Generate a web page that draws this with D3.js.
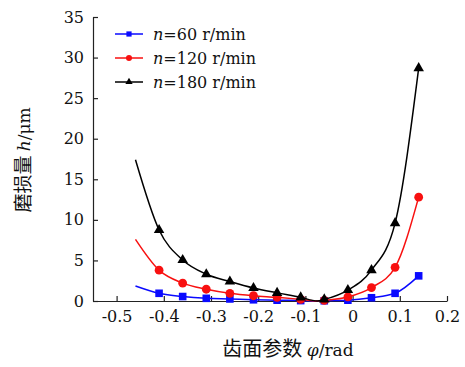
<!DOCTYPE html>
<html lang="zh">
<head>
<meta charset="utf-8">
<title></title>
<style>
body {
  margin: 0;
  background: #fff;
}
</style>
</head>
<body>
<div id="app"></div>
<script src="https://d3js.org/d3.v7.min.js"></script>
<script>
// 齿面参数 φ (rad)；-0.46 是曲线起点，-0.075 是曲线最低点（无标记）
const phi = [-0.46, -0.41, -0.36, -0.31, -0.26, -0.21, -0.16, -0.11, -0.075, -0.06, -0.01, 0.04, 0.09, 0.14]
const hasMarker = [false, true, true, true, true, true, true, true, false, true, true, true, true, true]

// 磨损量 h (μm)
const h60  = [1.85, 0.95, 0.55, 0.33, 0.25, 0.15, 0.1, 0.05, 0, 0.03, 0.1, 0.4, 0.95, 3.1]
const h120 = [7.6, 3.8, 2.2, 1.45, 0.95, 0.65, 0.45, 0.2, 0, 0.08, 0.5, 1.65, 4.15, 12.8]
const h180 = [17.4, 8.75, 5.05, 3.3, 2.4, 1.6, 1.0, 0.45, 0, 0.2, 1.35, 3.8, 9.6, 28.7]

const seriesNames = ["60", "120", "180"]
const xTicks = [-0.5, -0.4, -0.3, -0.2, -0.1, 0, 0.1, 0.2]
const yTicks = [0, 5, 10, 15, 20, 25, 30, 35]

const SERIF = "DejaVu Serif"
const CJK = "Noto Sans CJK SC"

const width = 465,
      height = 367,
      margin = ({top: 17, right: 18, bottom: 66, left: 93})

const series = [
  {name: seriesNames[0], values: h60, color: "#0a0aff", shape: "square"},
  {name: seriesNames[1], values: h120, color: "#f81010", shape: "circle"},
  {name: seriesNames[2], values: h180, color: "#000", shape: "triangle"}
]

const x = d3.scaleLinear()
    .domain([-0.55, 0.2])
    .range([margin.left, width - margin.right])
const y = d3.scaleLinear()
    .domain([0, 35])
    .range([height - margin.bottom, margin.top])

const svg = d3.select("#app").append("svg")
    .attr("width", width)
    .attr("height", height)
    .attr("viewBox", [0, 0, width, height])
    .style("font-family", SERIF)

// 坐标轴（刻度朝内）
svg.append("g")
    .attr("transform", `translate(0,${height - margin.bottom})`)
    .call(d3.axisBottom(x).tickValues(xTicks).tickSize(-5).tickSizeOuter(0).tickPadding(10)
      .tickFormat(d => d === 0 ? "0" : d3.format(".1f")(d).replace("−", "-")))
    .call(g => g.selectAll("text").style("font-family", SERIF).attr("font-size", 16).attr("fill", "#111"))
    .call(g => g.selectAll("line, path").attr("stroke", "#222").attr("stroke-width", 1.2))

svg.append("g")
    .attr("transform", `translate(${margin.left},0)`)
    .call(d3.axisLeft(y).tickValues(yTicks).tickSize(-5).tickSizeOuter(0).tickPadding(9))
    .call(g => g.selectAll("text").style("font-family", SERIF).attr("font-size", 16).attr("fill", "#111"))
    .call(g => g.selectAll("line, path").attr("stroke", "#222").attr("stroke-width", 1.2))

// 曲线
const line = d3.line()
    .x((d, i) => x(phi[i]))
    .y(d => y(d))
    .curve(d3.curveMonotoneX)

const marker = (sel, shape, color, size) => {
  if (shape === "circle") {
    sel.append("circle").attr("r", size * 0.55).attr("fill", color)
  } else {
    const sym = shape === "square" ? d3.symbolSquare : d3.symbolTriangle
    sel.append("path")
      .attr("d", d3.symbol(sym, shape === "square" ? size * size * 0.9 : size * size * 0.75)())
      .attr("fill", color)
  }
}

series.forEach(s => {
  svg.append("path")
      .attr("d", line(s.values))
      .attr("fill", "none")
      .attr("stroke", s.color)
      .attr("stroke-width", 1.5)

  s.values.forEach((v, i) => {
    if (!hasMarker[i]) return
    const g = svg.append("g").attr("transform", `translate(${x(phi[i])},${y(v)})`)
    marker(g, s.shape, s.color, 8)
  })
})

// 图例
const legend = svg.append("g")
series.forEach((s, i) => {
  const ly = 34 + i * 24
  legend.append("line")
      .attr("x1", 115).attr("x2", 143)
      .attr("y1", ly).attr("y2", ly)
      .attr("stroke", s.color)
      .attr("stroke-width", 1.5)
  const g = legend.append("g").attr("transform", `translate(129,${ly})`)
  marker(g, s.shape, s.color, 5.5)
  const t = legend.append("text")
      .attr("x", 153)
      .attr("y", ly + 6)
      .attr("font-size", 16)
      .attr("fill", "#111")
      .style("font-family", SERIF)
  t.append("tspan").attr("font-style", "italic").text("n")
  t.append("tspan").text(`=${s.name} r/min`)
})

// 轴标题
const xt = svg.append("text")
    .attr("x", 288)
    .attr("y", 356)
    .attr("text-anchor", "middle")
    .attr("font-size", 17)
    .attr("fill", "#111")
    .style("font-family", SERIF)
xt.append("tspan").style("font-family", CJK).attr("font-size", 20).text("齿面参数 ")
xt.append("tspan").attr("font-style", "italic").text("φ")
xt.append("tspan").text("/rad")

const yt = svg.append("text")
    .attr("transform", "translate(30,160) rotate(-90)")
    .attr("text-anchor", "middle")
    .attr("font-size", 17)
    .attr("fill", "#111")
    .style("font-family", SERIF)
yt.append("tspan").style("font-family", CJK).attr("font-size", 19).text("磨损量 ")
yt.append("tspan").attr("font-style", "italic").text("h")
yt.append("tspan").text("/μm")
</script>
</body>
</html>
